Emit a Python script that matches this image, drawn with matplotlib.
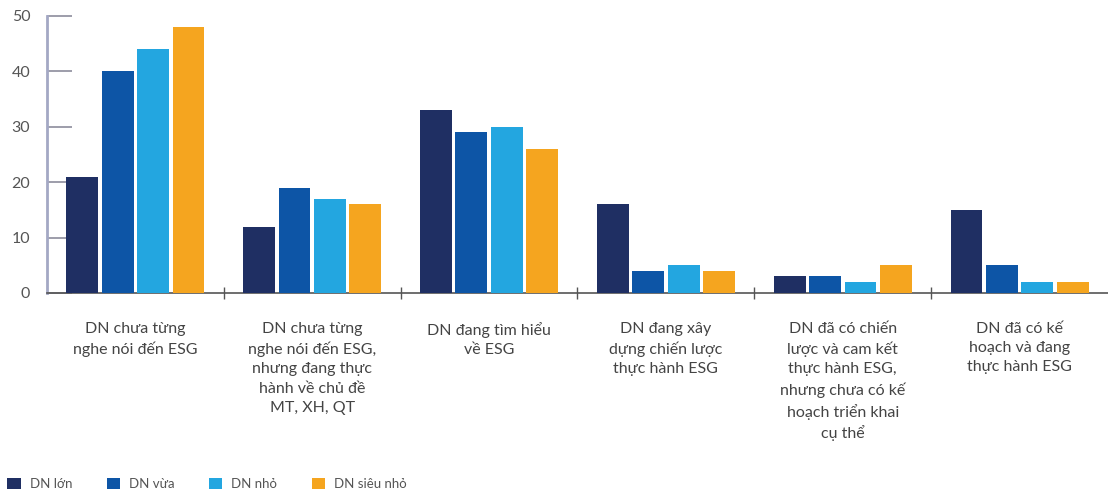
import matplotlib
matplotlib.use("Agg")
import matplotlib.pyplot as plt
import numpy as np
from matplotlib.patches import Patch

plt.rcParams['font.family'] = ['Lato', 'DejaVu Sans']

categories = [
    "DN chưa từng\nnghe nói đến ESG",
    "DN chưa từng\nnghe nói đến ESG,\nnhưng đang thực\nhành về chủ đề\nMT, XH, QT",
    "DN đang tìm hiểu\nvề ESG",
    "DN đang xây\ndựng chiến lược\nthực hành ESG",
    "DN đã có chiến\nlược và cam kết\nthực hành ESG,\nnhưng chưa có kế\nhoạch triển khai\ncụ thể",
    "DN đã có kế\nhoạch và đang\nthực hành ESG",
]
series_names = ["DN lớn", "DN vừa", "DN nhỏ", "DN siêu nhỏ"]
dn_lon = [21, 12, 33, 16, 3, 15]
dn_vua = [40, 19, 29, 4, 3, 5]
dn_nho = [44, 17, 30, 5, 2, 2]
dn_sieu_nho = [48, 16, 26, 4, 5, 2]
y_ticks = [0, 10, 20, 30, 40, 50]

colors = ["#1f2f63", "#0d55a6", "#23a6e0", "#f5a51f"]
series = [dn_lon, dn_vua, dn_nho, dn_sieu_nho]

fig = plt.figure(figsize=(11.08, 4.92), dpi=100)
ax = fig.add_axes([0.0424, 0.4045, 0.9576, 0.563])

x = np.arange(len(categories))
w = 0.18
gap = 0.02
offsets = (np.arange(4) - 1.5) * (w + gap)
for vals, col, off, name in zip(series, colors, offsets, series_names):
    ax.bar(x + off, vals, width=w, color=col, label=name, zorder=3)

ax.set_xlim(-0.5, 5.5)
ax.set_ylim(0, 50)
ax.set_yticks(y_ticks)
ax.tick_params(axis='y', direction='in', length=18, width=1.2, color='#8c8c9c',
               pad=12, labelsize=11.5, labelcolor='#555555')
ax.set_xticks(x)
ax.set_xticklabels(categories, fontsize=11.5, color='#444444', linespacing=1.46, va='top')
ax.tick_params(axis='x', length=0, pad=21)
ax.set_xticks(np.arange(0.5, 5.0, 1.0), minor=True)
ax.tick_params(axis='x', which='minor', direction='inout', length=8, width=1, color='#555555')

for s in ['top', 'right']:
    ax.spines[s].set_visible(False)
ax.spines['left'].set_color('#a4a8c4')
ax.spines['left'].set_linewidth(2)
ax.spines['bottom'].set_color('#555555')
ax.spines['bottom'].set_linewidth(1.2)

handles = [Patch(facecolor=c, label=n) for c, n in zip(colors, series_names)]
fig.legend(handles=handles, loc='lower left', bbox_to_anchor=(-0.004, -0.02), ncol=4,
           frameon=False, fontsize=9.5, handlelength=1.0, handleheight=1.0,
           handletextpad=0.7, columnspacing=2.6, labelcolor='#555555')

fig.savefig("out.png", dpi=100)
